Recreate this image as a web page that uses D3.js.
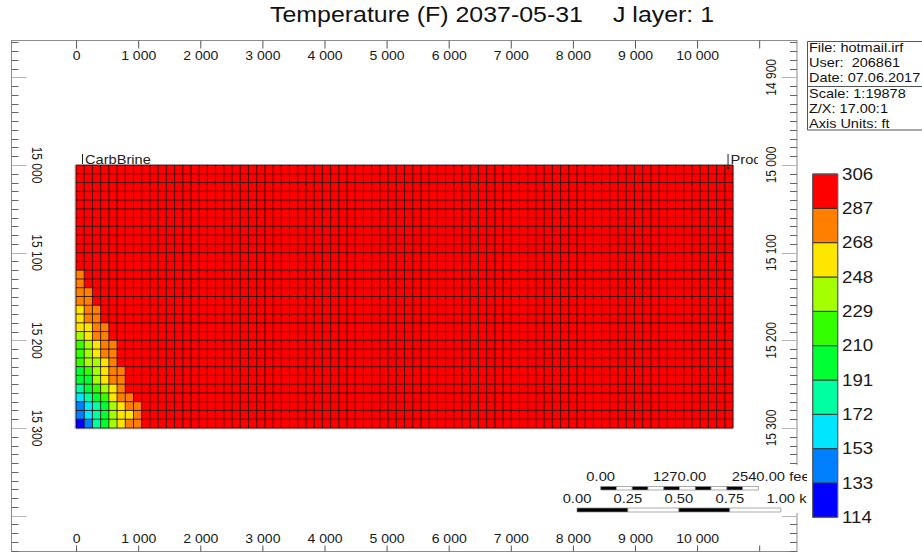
<!DOCTYPE html>
<html lang="en">
<head>
<meta charset="utf-8">
<title>Temperature (F) 2037-05-31  J layer: 1</title>
<script src="https://d3js.org/d3.v7.min.js"></script>
<style>
  body { margin: 0; background: #fff; }
  svg { display: block; font-family: "Liberation Sans", Arial, sans-serif; }
  line, rect, path { vector-effect: non-scaling-stroke; }
</style>
</head>
<body>
<div id="chart"></div>
<script>
// legend bins (F), bottom to top, and their colours
var legendBounds = [114, 133, 153, 172, 191, 210, 229, 248, 268, 287, 306]
var legendColors = ["#0000ff", "#0080ff", "#00e6ff", "#00ffa0", "#00ff33", "#33ff00", "#a6ff00", "#ffe600", "#ff8000", "#ff0000"]

// block grid: x in ft, depth in ft
var nCols = 80, nRows = 30
var gridX = [0, 10580]
var gridDepth = [15000, 15300]
var baseTemp = 300

// cooled blocks near the injector, rows from index 12 down, columns from 0
var coldStartRow = 12
var coldRows = [
  [277],
  [277],
  [277, 277],
  [277, 277],
  [258, 277, 277],
  [258, 277, 277],
  [258, 258, 277, 277],
  [238, 258, 277, 277],
  [219, 238, 258, 277, 277],
  [219, 238, 258, 277, 277],
  [219, 238, 238, 258, 277],
  [200, 219, 238, 258, 277, 277],
  [200, 200, 238, 258, 277, 277],
  [181, 200, 219, 238, 258, 277],
  [162, 181, 200, 219, 258, 277, 277],
  [143, 162, 181, 200, 238, 258, 277, 277],
  [143, 162, 181, 200, 238, 258, 258, 277],
  [124, 143, 181, 200, 238, 258, 277, 277]
]

var xTicks = [0, 1000, 2000, 3000, 4000, 5000, 6000, 7000, 8000, 9000, 10000]
var leftDepthTicks = [15000, 15100, 15200, 15300]
var rightDepthTicks = [14900, 15000, 15100, 15200, 15300]
var wells = [{name: "CarbBrine", x: 105}, {name: "Producer", x: 10500}]
var infoLines = ["File: hotmail.irf", "User:  206861", "Date: 07.06.2017", "Scale: 1:19878", "Z/X: 17.00:1", "Axis Units: ft"]
var scaleFeet = [0, 1270, 2540]
var scaleKm = [0, 0.25, 0.5, 0.75, 1]

var W = 922, H = 552
var S = 1.17          // picture is stretched sideways
function X(v) { return v / S }

var svg = d3.select("#chart").append("svg")
            .attr("width", W)
            .attr("height", H)
var defs = svg.append("defs")
defs.append("clipPath").attr("id", "clipPlot")
    .append("rect").attr("x", 0).attr("y", 0).attr("width", X(758)).attr("height", H)
defs.append("clipPath").attr("id", "clipScale")
    .append("rect").attr("x", 0).attr("y", 0).attr("width", X(807)).attr("height", H)

var g = svg.append("g").attr("transform", "scale(" + S + ",1)")

var x = d3.scaleLinear().domain([0, 10000]).range([X(76), X(697)])
var y = d3.scaleLinear().domain([15000, 15300]).range([165, 428])
var color = d3.scaleThreshold().domain(legendBounds.slice(1, -1)).range(legendColors)
var fmt = d3.formatLocale({decimal: ".", thousands: " ", grouping: [3], currency: ["", ""]}).format(",d")

// title
g.append("text").attr("x", X(270)).attr("y", 22).attr("font-size", 21.3).attr("fill", "#111")
 .text("Temperature (F) 2037-05-31")
g.append("text").attr("x", X(613)).attr("y", 22).attr("font-size", 21.3).attr("fill", "#111")
 .text("J layer: 1")

// grid cells
var dx = (gridX[1] - gridX[0]) / nCols
var dz = (gridDepth[1] - gridDepth[0]) / nRows
var cells = []
for (var r = 0; r < nRows; r++) {
  for (var c = 0; c < nCols; c++) {
    var t = baseTemp
    var cr = coldRows[r - coldStartRow]
    if (cr && c < cr.length) t = cr[c]
    cells.push({r: r, c: c, t: t})
  }
}

// light shadow edge
g.append("line").attr("x1", x(gridX[0]) - X(1)).attr("x2", x(gridX[0]) - X(1))
 .attr("y1", y(gridDepth[0])).attr("y2", y(gridDepth[1]) + 1)
 .attr("stroke", "#c8c8c8").attr("stroke-width", 1.2)
g.append("line").attr("x1", x(gridX[0]) - X(1)).attr("x2", x(gridX[1]))
 .attr("y1", y(gridDepth[1]) + 1).attr("y2", y(gridDepth[1]) + 1)
 .attr("stroke", "#c8c8c8").attr("stroke-width", 1.2)

g.append("g").selectAll("rect")
 .data(cells)
 .enter()
 .append("rect")
 .attr("x", function(d){ return x(gridX[0] + d.c * dx) })
 .attr("y", function(d){ return y(gridDepth[0] + d.r * dz) })
 .attr("width", x(dx) - x(0) + 0.2)
 .attr("height", y(dz) - y(0) + 0.2)
 .attr("fill", function(d){ return color(d.t) })

var gl = g.append("g").attr("stroke", "#1a0000").attr("stroke-opacity", 0.8).attr("stroke-width", 1)
gl.selectAll("line.v").data(d3.range(nCols + 1)).enter().append("line")
  .attr("x1", function(i){ return x(gridX[0] + i * dx) })
  .attr("x2", function(i){ return x(gridX[0] + i * dx) })
  .attr("y1", y(gridDepth[0])).attr("y2", y(gridDepth[1]))
gl.selectAll("line.h").data(d3.range(nRows + 1)).enter().append("line")
  .attr("y1", function(i){ return y(gridDepth[0] + i * dz) })
  .attr("y2", function(i){ return y(gridDepth[0] + i * dz) })
  .attr("x1", x(gridX[0])).attr("x2", x(gridX[1]))

// wells
var wg = g.append("g").attr("clip-path", "url(#clipPlot)")
wells.forEach(function(w, i){
  wg.append("line").attr("x1", x(w.x)).attr("x2", x(w.x))
    .attr("y1", 154).attr("y2", i == 0 ? 164 : 168)
    .attr("stroke", "#222").attr("stroke-width", 1)
  wg.append("text").attr("x", x(w.x) + X(2.5)).attr("y", 164)
    .attr("font-size", 12.5).attr("fill", "#222").text(w.name)
  if (i == 1) wg.append("circle").attr("cx", x(w.x)).attr("cy", 168).attr("r", 1.1).attr("fill", "#000")
})

// frame
var frame = g.append("g").attr("stroke", "#8c8c8c").attr("stroke-width", 1)
frame.append("line").attr("x1", X(11.5)).attr("x2", X(797)).attr("y1", 40.5).attr("y2", 40.5)
frame.append("line").attr("x1", X(11.5)).attr("x2", X(797)).attr("y1", 551.5).attr("y2", 551.5)
frame.append("line").attr("x1", X(11.5)).attr("x2", X(11.5)).attr("y1", 40).attr("y2", 552)
frame.append("line").attr("x1", X(797)).attr("x2", X(797)).attr("y1", 40).attr("y2", 552)

// top and bottom axes
var tickVals = d3.range(0, 11001, 1000)
function xLabel(d){ return xTicks.indexOf(d) >= 0 ? fmt(d) : "" }
function styleAxis(sel){
  sel.select(".domain").remove()
  sel.selectAll(".tick line").attr("stroke", "#555")
  sel.selectAll(".tick text").attr("font-size", 12).attr("fill", "#1a1a1a")
     .attr("font-family", "Liberation Sans, Arial, sans-serif")
}
g.append("g").attr("transform", "translate(0,40.5)")
 .call(d3.axisBottom(x).tickValues(tickVals).tickSize(8).tickPadding(3).tickFormat(xLabel))
 .call(styleAxis)
g.append("g").attr("transform", "translate(0,551.5)")
 .call(d3.axisTop(x).tickValues(tickVals).tickSize(6).tickPadding(2.5).tickFormat(xLabel))
 .call(styleAxis)

// depth axes, left and right
var minor = d3.range(14860, 15441, 10)
var major = d3.range(14900, 15401, 100)
function depthTicks(x0, dir){
  var ag = g.append("g")
  ag.selectAll("line.mi").data(minor).enter().append("line")
    .attr("x1", X(x0)).attr("x2", X(x0 + dir * 7))
    .attr("y1", function(d){ return Math.round(y(d)) + 0.5 })
    .attr("y2", function(d){ return Math.round(y(d)) + 0.5 })
    .attr("stroke", "#666").attr("stroke-width", 1)
  ag.selectAll("line.ma").data(major).enter().append("line")
    .attr("x1", X(x0)).attr("x2", X(x0 + dir * 15))
    .attr("y1", function(d){ return Math.round(y(d)) + 0.5 })
    .attr("y2", function(d){ return Math.round(y(d)) + 0.5 })
    .attr("stroke", "#b5b5b5").attr("stroke-width", 1)
}
depthTicks(11.5, 1)
depthTicks(797, -1)

g.append("g").selectAll("text").data(leftDepthTicks).enter().append("text")
 .attr("transform", function(d){ return "translate(" + X(37) + "," + y(d) + ") rotate(90)" })
 .attr("text-anchor", "middle").attr("dy", "0.35em")
 .attr("font-size", 12).attr("fill", "#1a1a1a").text(fmt)
g.append("g").selectAll("text").data(rightDepthTicks).enter().append("text")
 .attr("transform", function(d){ return "translate(" + X(771) + "," + y(d) + ") rotate(-90)" })
 .attr("text-anchor", "middle").attr("dy", "0.35em")
 .attr("font-size", 12).attr("fill", "#1a1a1a").text(fmt)

// info box
var ib = g.append("g")
ib.append("rect").attr("x", X(807.5)).attr("y", 41.5).attr("width", X(940) - X(807.5)).attr("height", 88.5)
  .attr("fill", "#fff").attr("stroke", "#555").attr("stroke-width", 1)
ib.append("line").attr("x1", X(807.5)).attr("x2", X(940)).attr("y1", 86.5).attr("y2", 86.5)
  .attr("stroke", "#555").attr("stroke-width", 1)
var infoY = [52.5, 67.5, 82.5, 98.5, 113.5, 128]
ib.selectAll("text").data(infoLines).enter().append("text")
  .attr("x", X(809)).attr("y", function(d, i){ return infoY[i] })
  .attr("font-size", 12.4).attr("fill", "#111").style("white-space", "pre")
  .text(function(d){ return d })

// colour bar
var cb = d3.scalePoint().domain(legendBounds).range([517.3, 174])
var cbg = g.append("g")
cbg.selectAll("rect").data(legendColors).enter().append("rect")
   .attr("x", X(812.7)).attr("width", X(837.7) - X(812.7))
   .attr("y", function(d, i){ return cb(legendBounds[i + 1]) })
   .attr("height", function(d, i){ return cb(legendBounds[i]) - cb(legendBounds[i + 1]) })
   .attr("fill", function(d){ return d })
   .attr("stroke", "#2a2a2a").attr("stroke-width", 0.9)
cbg.append("rect").attr("x", X(812.7)).attr("width", X(837.7) - X(812.7))
   .attr("y", 174).attr("height", 517.3 - 174)
   .attr("fill", "none").attr("stroke", "#666").attr("stroke-width", 1)
cbg.selectAll("text").data(legendBounds).enter().append("text")
   .attr("x", X(842)).attr("y", function(d){ return cb(d) }).attr("dy", "0.36em")
   .attr("font-size", 16).attr("fill", "#1a1a1a").text(function(d){ return d })

// scale bars
var sb = g.append("g")
sb.append("rect").attr("x", X(568)).attr("y", 465).attr("width", X(812) - X(568)).attr("height", 48)
  .attr("fill", "#fff")
var pxFt = x(1) - x(0)
function scaleBar(x0, yBar, hBar, yText, values, ftPerUnit, segs, unit){
  var len = values[values.length - 1] * ftPerUnit * pxFt
  var s = d3.scaleLinear().domain([0, values[values.length - 1]]).range([X(x0), X(x0) + len])
  var segW = len / segs
  sb.selectAll(null).data(d3.range(segs)).enter().append("rect")
    .attr("x", function(i){ return X(x0) + i * segW }).attr("y", yBar)
    .attr("width", segW).attr("height", hBar)
    .attr("fill", function(i){ return i % 2 == 0 ? "#000" : "#fff" })
    .attr("stroke", "#888").attr("stroke-width", 0.7)
  var lg = sb.append("g").attr("clip-path", "url(#clipScale)")
  values.forEach(function(v, i){
    var tx = lg.append("text").attr("x", s(v)).attr("y", yText).attr("text-anchor", "middle")
      .attr("font-size", 12.6).attr("fill", "#1a1a1a").text(v.toFixed(2))
    if (i == values.length - 1) {
      var half = tx.node().getComputedTextLength() / 2
      lg.append("text").attr("x", s(v) + half + 3.5).attr("y", yText)
        .attr("font-size", 12.6).attr("fill", "#1a1a1a").text(unit)
    }
  })
}
scaleBar(600.7, 486.5, 3.5, 481.5, scaleFeet, 1, 10, "feet")
scaleBar(577, 508, 4, 503.5, scaleKm, 3280.84, 4, "km")
</script>
</body>
</html>
